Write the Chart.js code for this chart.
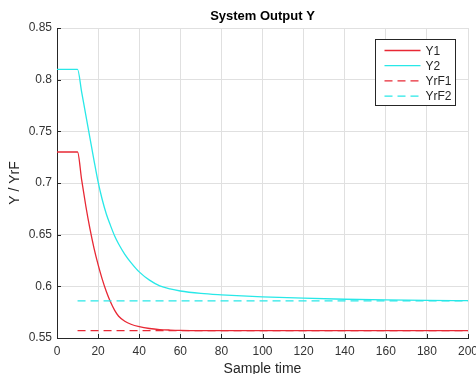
<!DOCTYPE html>
<html>
<head>
<meta charset="utf-8">
<script src="https://cdn.jsdelivr.net/npm/chart.js@4/dist/chart.umd.min.js"></script>
<style>
  html, body { margin: 0; padding: 0; background: #fff; }
  #chart-area { width: 476px; height: 374px; }
</style>
</head>
<body>
<div id="chart-area"><canvas id="chart" width="476" height="374"></canvas></div>
<script>
const chartTitle = 'System Output Y';
const xTitle = 'Sample time';
const yTitle = 'Y / YrF';

const sampleTime = [0, 10, 12, 14, 16, 18, 20, 22, 24, 26, 28, 30, 33, 36, 40, 45, 50, 55, 60, 70, 80, 90, 100, 120, 140, 160, 180, 200];
const y1 = [0.73, 0.73, 0.703, 0.678, 0.656, 0.637, 0.621, 0.607, 0.595, 0.585, 0.577, 0.571, 0.5662, 0.5633, 0.5610, 0.5592, 0.5582, 0.5577, 0.5574, 0.5572, 0.5572, 0.5572, 0.5572, 0.5572, 0.5572, 0.5572, 0.5572, 0.5572];
const y2 = [0.81, 0.81, 0.788, 0.766, 0.744, 0.722, 0.701, 0.684, 0.670, 0.659, 0.649, 0.641, 0.631, 0.623, 0.614, 0.606, 0.6005, 0.5975, 0.5955, 0.5932, 0.5918, 0.5907, 0.5898, 0.5885, 0.5875, 0.5868, 0.5864, 0.5862];

const refTime = [10, 200];
const yrF1 = [0.5572, 0.5572];
const yrF2 = [0.586, 0.586];

const xTicks = [0, 20, 40, 60, 80, 100, 120, 140, 160, 180, 200];
const xTickLabels = ['0', '20', '40', '60', '80', '100', '120', '140', '160', '180', '200'];
const yTicks = [0.55, 0.6, 0.65, 0.7, 0.75, 0.8, 0.85];
const yTickLabels = ['0.55', '0.6', '0.65', '0.7', '0.75', '0.8', '0.85'];

const RED = 'rgb(232, 40, 52)';
const CYAN = 'rgb(40, 232, 232)';
const FONT = '"Liberation Sans", Arial, sans-serif';
const INK = '#262626';

const toPoints = (xs, ys) => xs.map((t, i) => ({ x: t, y: ys[i] }));

// title, inward ticks and the boxed legend, MATLAB style
const framePlugin = {
  id: 'frame',
  afterDraw(chart) {
    const { ctx, chartArea: a, scales: { x, y } } = chart;
    ctx.save();
    ctx.strokeStyle = INK;
    ctx.lineWidth = 1;
    ctx.beginPath();
    xTicks.forEach(v => {
      const px = Math.round(x.getPixelForValue(v)) + 0.5;
      ctx.moveTo(px, a.bottom);
      ctx.lineTo(px, a.bottom - 4);
    });
    yTicks.forEach(v => {
      const py = Math.round(y.getPixelForValue(v)) + 0.5;
      ctx.moveTo(a.left, py);
      ctx.lineTo(a.left + 4, py);
    });
    ctx.stroke();

    ctx.fillStyle = '#000';
    ctx.font = 'bold 13px ' + FONT;
    ctx.textAlign = 'center';
    ctx.textBaseline = 'middle';
    ctx.fillText(chartTitle, (a.left + a.right) / 2, 16);

    const bx = a.right - 92.5, by = a.top + 11.5, bw = 80, bh = 66;
    ctx.fillStyle = '#fff';
    ctx.fillRect(bx, by, bw, bh);
    ctx.strokeStyle = INK;
    ctx.strokeRect(bx, by, bw, bh);
    ctx.font = '12px ' + FONT;
    ctx.textAlign = 'left';
    chart.data.datasets.forEach((ds, i) => {
      const ly = by + 11 + i * 15.2;
      ctx.strokeStyle = ds.borderColor;
      ctx.lineWidth = 1.3;
      ctx.setLineDash(ds.borderDash || []);
      ctx.beginPath();
      ctx.moveTo(bx + 9, ly);
      ctx.lineTo(bx + 45, ly);
      ctx.stroke();
      ctx.setLineDash([]);
      ctx.fillStyle = INK;
      ctx.fillText(ds.label, bx + 50, ly + 1);
    });
    ctx.restore();
  }
};

new Chart(document.getElementById('chart'), {
  type: 'line',
  data: {
    datasets: [
      { label: 'Y1', data: toPoints(sampleTime, y1), borderColor: RED, order: 4 },
      { label: 'Y2', data: toPoints(sampleTime, y2), borderColor: CYAN, order: 3 },
      { label: 'YrF1', data: toPoints(refTime, yrF1), borderColor: RED, borderDash: [8, 5], order: 2 },
      { label: 'YrF2', data: toPoints(refTime, yrF2), borderColor: CYAN, borderDash: [8, 5], order: 1 }
    ]
  },
  options: {
    responsive: false,
    animation: false,
    devicePixelRatio: 1,
    layout: { padding: { top: 28, right: 8, left: 0, bottom: 0 } },
    elements: {
      line: { borderWidth: 1.3, cubicInterpolationMode: 'monotone', fill: false },
      point: { radius: 0 }
    },
    plugins: {
      legend: { display: false },
      title: { display: false },
      tooltip: { enabled: false }
    },
    scales: {
      x: {
        type: 'linear',
        min: 0,
        max: 200,
        afterBuildTicks: s => { s.ticks = xTicks.map(v => ({ value: v })); },
        afterFit: s => { s.height = 36; s.paddingLeft = 0; s.paddingRight = 0; },
        grid: { color: '#e0e0e0', drawTicks: false },
        border: { display: true, color: INK, width: 1 },
        ticks: {
          autoSkip: false,
          maxRotation: 0,
          padding: 6,
          color: '#333',
          font: { family: FONT, size: 12 },
          callback: (v, i) => xTickLabels[i]
        },
        title: {
          display: true,
          text: xTitle,
          color: INK,
          font: { family: FONT, size: 14, lineHeight: 1 },
          padding: { top: 0, bottom: -2 }
        }
      },
      y: {
        min: 0.55,
        max: 0.85,
        afterBuildTicks: s => { s.ticks = yTicks.map(v => ({ value: v })); },
        afterFit: s => { s.width = 57; s.paddingTop = 0; s.paddingBottom = 0; },
        grid: { color: '#e0e0e0', drawTicks: false },
        border: { display: true, color: INK, width: 1 },
        ticks: {
          autoSkip: false,
          padding: 5,
          color: '#333',
          font: { family: FONT, size: 12 },
          callback: (v, i) => yTickLabels[i]
        },
        title: {
          display: true,
          text: yTitle,
          color: INK,
          font: { family: FONT, size: 14 },
          padding: { top: 7, bottom: 0 }
        }
      }
    }
  },
  plugins: [framePlugin]
});
</script>
</body>
</html>
